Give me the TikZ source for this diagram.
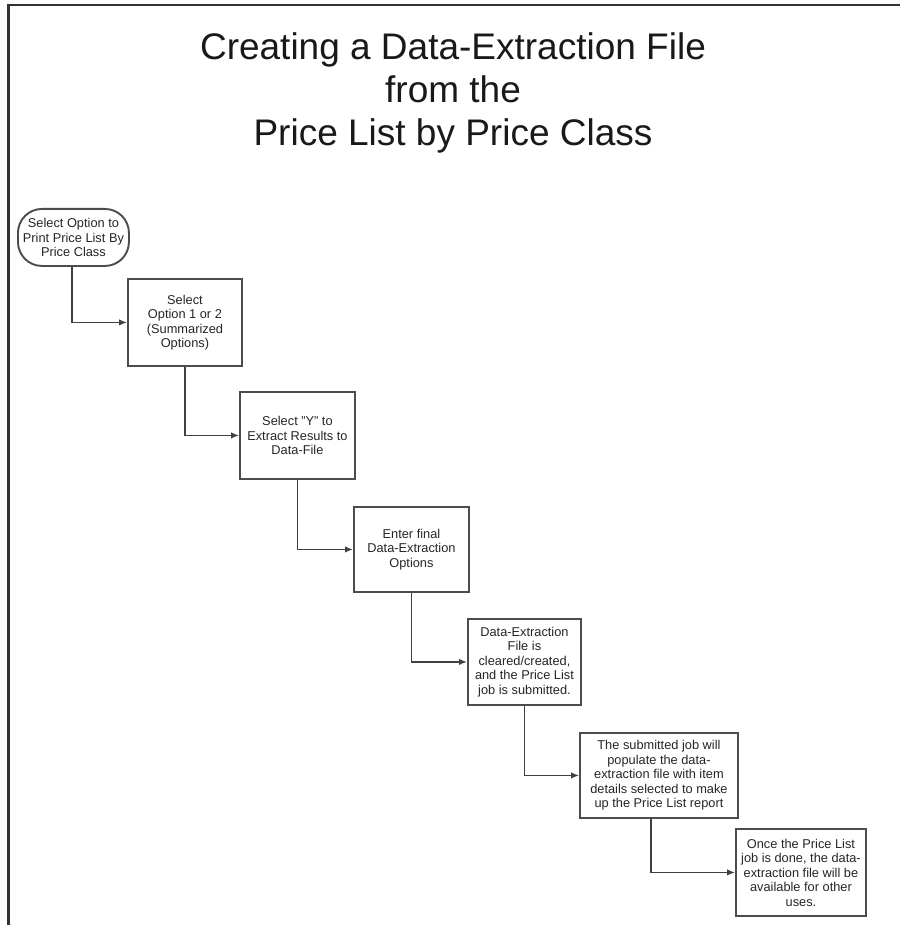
\documentclass[tikz,border=0pt]{standalone}
\usepackage{fontspec}
\setmainfont{Liberation Sans}
\usetikzlibrary{arrows.meta}
\newcommand\bxfont{\fontsize{12.8}{14.5}\selectfont}
\newcommand\ttlfont{\fontsize{37}{43}\selectfont}
\tikzset{
  box/.style={draw=black!70, line width=1.9pt, fill=white, inner sep=0pt, align=center,
    anchor=north west, font=\bxfont, text=black!85},
  conn/.style={draw=black!75, line width=1.4pt, -{Latex[length=8pt,width=6.5pt]}},
  ttl/.style={anchor=base, inner sep=0pt, font=\ttlfont, text=black!90},
}
\begin{document}
\begin{tikzpicture}[x=1pt,y=-1pt]
\useasboundingbox (0,0) rectangle (900,925);
\fill[white] (0,0) rectangle (900,925);
\draw[line width=2.2pt, black!80] (8.5,925) -- (8.5,5) -- (900,5);

\node[ttl] (t1) at (453,60) {Creating a Data-Extraction File};
\node[ttl] (t2) at (453,103) {from the};
\node[ttl] (t3) at (453,146) {Price List by Price Class};

\node[box, rounded corners=24, minimum width=111, minimum height=57] (s) at (17,208)
  {Select Option to\\Print Price List By\\Price Class};
\node[box, minimum width=114, minimum height=87] (b2) at (127,278)
  {Select\\Option 1 or 2\\(Summarized\\Options)};
\node[box, minimum width=115, minimum height=87] (b3) at (239,391)
  {Select "Y" to\\Extract Results to\\Data-File};
\node[box, minimum width=115, minimum height=85] (b4) at (353,506)
  {Enter final\\Data-Extraction\\Options};
\node[box, minimum width=113, minimum height=86] (b5) at (467,618)
  {Data-Extraction\\File is\\cleared/created,\\and the Price List\\job is submitted.};
\node[box, minimum width=158, minimum height=85] (b6) at (579,732)
  {The submitted job will\\populate the data-\\extraction file with item\\details selected to make\\up the Price List report};
\node[box, minimum width=130, minimum height=87] (b7) at (735,828)
  {Once the Price List\\job is done, the data-\\extraction file will be\\available for other\\uses.};

\draw[conn] ([xshift=-1.5pt]s.south) |- (b2.west);
\draw[conn] (b2.south) |- (b3.west);
\draw[conn] (b3.south) |- (b4.west);
\draw[conn] (b4.south) |- (b5.west);
\draw[conn] (b5.south) |- (b6.west);
\draw[conn] ([xshift=-8pt]b6.south) |- (b7.west);
\end{tikzpicture}
\end{document}
